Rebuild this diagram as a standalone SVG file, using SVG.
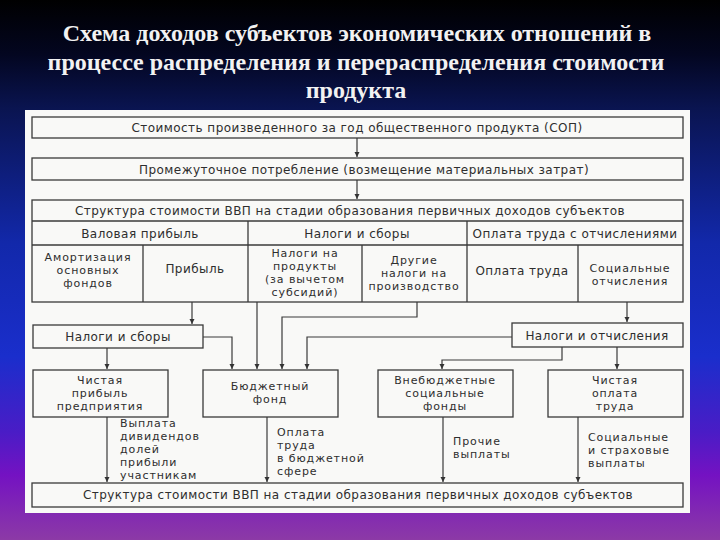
<svg xmlns="http://www.w3.org/2000/svg" width="720" height="540" viewBox="0 0 720 540">
<defs>
<linearGradient id="bg" x1="0" y1="0" x2="0" y2="1">
<stop offset="0" stop-color="#000000"/>
<stop offset="0.1" stop-color="#030620"/>
<stop offset="0.2" stop-color="#0a1450"/>
<stop offset="0.45" stop-color="#1228aa"/>
<stop offset="0.66" stop-color="#1a2ecc"/>
<stop offset="0.8" stop-color="#4a1cc6"/>
<stop offset="0.88" stop-color="#7412c2"/>
<stop offset="1" stop-color="#8c3aa6"/>
</linearGradient>
<marker id="ah" markerUnits="userSpaceOnUse" markerWidth="6" markerHeight="6" refX="5" refY="3" orient="auto">
<path d="M0,0.5 L5,3 L0,5.5 z" fill="#333"/>
</marker>
<style>
.box{fill:none;stroke:#3a3a3a;stroke-width:1.3}
.t{font-family:"DejaVu Sans","Liberation Sans",sans-serif;font-size:12px;letter-spacing:0.45px;fill:#2e2e2e;text-anchor:middle}
.m{font-family:"DejaVu Sans","Liberation Sans",sans-serif;font-size:11px;letter-spacing:0.9px;fill:#2e2e2e;text-anchor:middle}
.l{font-family:"DejaVu Sans","Liberation Sans",sans-serif;font-size:11px;letter-spacing:0.9px;fill:#2e2e2e;text-anchor:start}
.title{font-family:"Liberation Serif","Times New Roman",serif;font-weight:bold;font-size:24px;fill:#f2f2f2;text-anchor:middle}
.a{fill:none;stroke:#3a3a3a;stroke-width:1.2;marker-end:url(#ah)}
</style>
</defs>
<rect x="0" y="0" width="720" height="540" fill="url(#bg)"/>
<g id="title">
<text class="title" x="357" y="41">Схема доходов субъектов экономических отношений в</text>
<text class="title" x="356" y="70">процессе распределения и перераспределения стоимости</text>
<text class="title" x="356" y="98">продукта</text>
</g>
<rect x="25" y="110" width="665" height="403" fill="#f9f9f7"/>

<g id="sop">
<rect class="box" x="32" y="117" width="651" height="21"/>
<text class="t" x="357" y="132">Стоимость произведенного за год общественного продукта (СОП)</text>
</g>
<g id="intermediate">
<rect class="box" x="32" y="158" width="651" height="22"/>
<text class="t" x="364" y="173.5">Промежуточное потребление (возмещение материальных затрат)</text>
</g>
<g id="structure-table">
<rect class="box" x="32" y="200" width="651" height="102"/>
<line class="box" x1="32" y1="221" x2="683" y2="221"/>
<line class="box" x1="32" y1="245" x2="683" y2="245"/>
<line class="box" x1="248" y1="221" x2="248" y2="302"/>
<line class="box" x1="467" y1="221" x2="467" y2="302"/>
<line class="box" x1="143" y1="245" x2="143" y2="302"/>
<line class="box" x1="362" y1="245" x2="362" y2="302"/>
<line class="box" x1="578" y1="245" x2="578" y2="302"/>
<text class="t" x="350" y="215">Структура стоимости ВВП на стадии образования первичных доходов субъектов</text>
<text class="t" x="140" y="238">Валовая прибыль</text>
<text class="t" x="357" y="238">Налоги и сборы</text>
<text class="t" x="575" y="238">Оплата труда с отчислениями</text>
<text class="m" x="88" y="261">Амортизация</text>
<text class="m" x="88" y="274">основных</text>
<text class="m" x="88" y="287">фондов</text>
<text class="t" x="195" y="273">Прибыль</text>
<text class="m" x="305" y="257">Налоги на</text>
<text class="m" x="305" y="270">продукты</text>
<text class="m" x="305" y="283">(за вычетом</text>
<text class="m" x="305" y="296">субсидий)</text>
<text class="m" x="414" y="264">Другие</text>
<text class="m" x="414" y="277">налоги на</text>
<text class="m" x="414" y="290">производство</text>
<text class="t" x="522" y="275">Оплата труда</text>
<text class="m" x="630" y="272">Социальные</text>
<text class="m" x="630" y="285">отчисления</text>
</g>
<g id="taxes-fees">
<rect class="box" x="33" y="325" width="170" height="23"/>
<text class="t" x="118" y="340.5">Налоги и сборы</text>
</g>
<g id="taxes-contrib">
<rect class="box" x="512" y="323" width="171" height="24"/>
<text class="t" x="597" y="339.5">Налоги и отчисления</text>
</g>
<g id="net-profit">
<rect class="box" x="33" y="370" width="135" height="47"/>
<text class="m" x="100" y="384">Чистая</text>
<text class="m" x="100" y="397">прибыль</text>
<text class="m" x="100" y="410">предприятия</text>
</g>
<g id="budget-fund">
<rect class="box" x="203" y="370" width="135" height="47"/>
<text class="m" x="270" y="390">Бюджетный</text>
<text class="m" x="270" y="403">фонд</text>
</g>
<g id="extra-budget">
<rect class="box" x="378" y="370" width="135" height="47"/>
<text class="m" x="445" y="384">Внебюджетные</text>
<text class="m" x="445" y="397">социальные</text>
<text class="m" x="445" y="410">фонды</text>
</g>
<g id="net-wage">
<rect class="box" x="548" y="370" width="135" height="47"/>
<text class="m" x="615" y="384">Чистая</text>
<text class="m" x="615" y="397">оплата</text>
<text class="m" x="615" y="410">труда</text>
</g>
<g id="structure-bottom">
<rect class="box" x="32" y="483" width="651" height="24"/>
<text class="t" x="358" y="499">Структура стоимости ВВП на стадии образования первичных доходов субъектов</text>
</g>
<g id="connectors">
<path class="a" d="M357,138 V157"/>
<path class="a" d="M357,180 V199"/>
<path class="a" d="M192,302 V324"/>
<path class="a" d="M257,302 V369"/>
<path class="a" d="M417,302 V317 H282 V369"/>
<path class="a" d="M203,337 H232 V369"/>
<path class="a" d="M512,337 H307 V369"/>
<path class="a" d="M627,302 V322"/>
<path class="a" d="M562,347 V360 H442 V369"/>
<path class="a" d="M617,347 V369"/>
<path class="a" d="M107,348 V369"/>
<path class="a" d="M107,417 V482"/>
<path class="a" d="M267,417 V482"/>
<path class="a" d="M443,417 V482"/>
<path class="a" d="M578,417 V482"/>
</g>
<g id="flow-labels">
<text class="l" x="120" y="427">Выплата</text>
<text class="l" x="120" y="440">дивидендов</text>
<text class="l" x="120" y="453">долей</text>
<text class="l" x="120" y="466">прибыли</text>
<text class="l" x="120" y="479">участникам</text>
<text class="l" x="277" y="436">Оплата</text>
<text class="l" x="277" y="449">труда</text>
<text class="l" x="277" y="462">в бюджетной</text>
<text class="l" x="277" y="475">сфере</text>
<text class="l" x="453" y="445">Прочие</text>
<text class="l" x="453" y="458">выплаты</text>
<text class="l" x="588" y="441">Социальные</text>
<text class="l" x="588" y="454">и страховые</text>
<text class="l" x="588" y="467">выплаты</text>
</g>
</svg>
